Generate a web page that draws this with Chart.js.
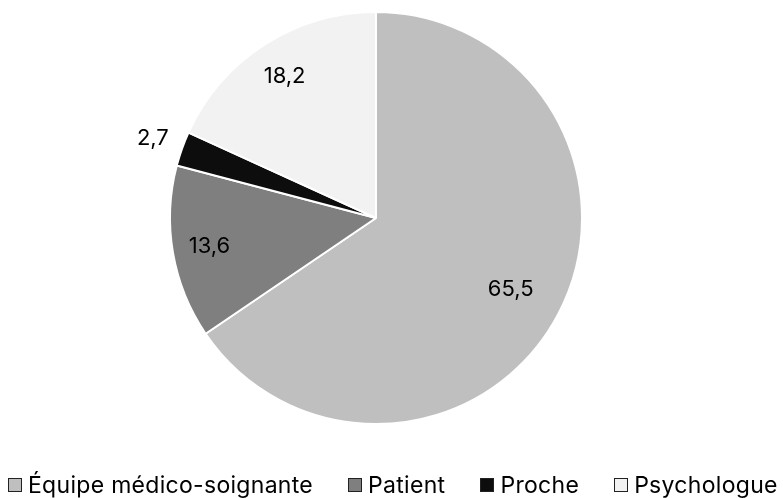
<!DOCTYPE html>
<html>
<head>
    <meta charset="utf-8">
    <title>Répartition</title>
    <script src="https://cdn.jsdelivr.net/npm/chart.js"></script>
    <style>
        body { margin: 0; background: #fff; font-family: Inter, sans-serif; }
        #wrap { position: relative; width: 783px; height: 498px; overflow: hidden; }
        #legend { position: absolute; left: 8px; top: 472px; width: 820px; display: flex; align-items: center; font-size: 23px; letter-spacing: 0.3px; line-height: 26px; color: #000; white-space: nowrap; }
        #legend .item { display: flex; align-items: center; margin-right: 35px; flex-shrink: 0; }
        #legend .box { width: 12px; height: 12px; border: 1px solid #222; margin-right: 6px; }
    </style>
</head>
<body>
    <div id="wrap">
        <canvas id="myChart"></canvas>
        <div id="legend"></div>
    </div>

    <script>
        const labels = ['Équipe médico-soignante', 'Patient', 'Proche', 'Psychologue'];
        const values = [65.5, 13.6, 2.7, 18.2];
        const colors = ['#bfbfbf', '#7f7f7f', '#0d0d0d', '#f2f2f2'];

        // value of each slice, small slices get the label outside
        const sliceLabels = {
            id: 'sliceLabels',
            afterDatasetsDraw(chart) {
                const ctx = chart.ctx;
                const meta = chart.getDatasetMeta(0);
                ctx.save();
                ctx.font = '22px Inter, sans-serif';
                ctx.fillStyle = '#000';
                ctx.textAlign = 'center';
                ctx.textBaseline = 'middle';
                meta.data.forEach((arc, i) => {
                    const p = arc.getProps(['x', 'y', 'startAngle', 'endAngle', 'outerRadius']);
                    const mid = (p.startAngle + p.endAngle) / 2;
                    const f = values[i] < 5 ? 1.15 : (values[i] > 50 ? 0.74 : 0.82);
                    const r = p.outerRadius * f;
                    ctx.fillText(String(values[i]).replace('.', ','), p.x + Math.cos(mid) * r, p.y + Math.sin(mid) * r);
                });
                ctx.restore();
            }
        };

        const ctx = document.getElementById('myChart').getContext('2d');
        const chart = new Chart(ctx, {
            type: 'pie',
            data: {
                labels: labels,
                datasets: [{
                    data: values,
                    backgroundColor: colors,
                    borderColor: '#fff',
                    borderWidth: 2
                }]
            },
            options: {
                responsive: true,
                maintainAspectRatio: false,
                animation: false,
                layout: { padding: { top: 11, bottom: 73, left: 0, right: 31 } },
                plugins: {
                    tooltip: { enabled: false },
                    legend: { display: false }
                }
            },
            plugins: [sliceLabels]
        });

        // legend under the pie
        const legendEl = document.getElementById('legend');
        labels.forEach((l, i) => {
            const item = document.createElement('div');
            item.className = 'item';
            const box = document.createElement('span');
            box.className = 'box';
            box.style.background = colors[i];
            const txt = document.createElement('span');
            txt.textContent = l;
            item.appendChild(box);
            item.appendChild(txt);
            legendEl.appendChild(item);
        });
    </script>
</body>
</html>
